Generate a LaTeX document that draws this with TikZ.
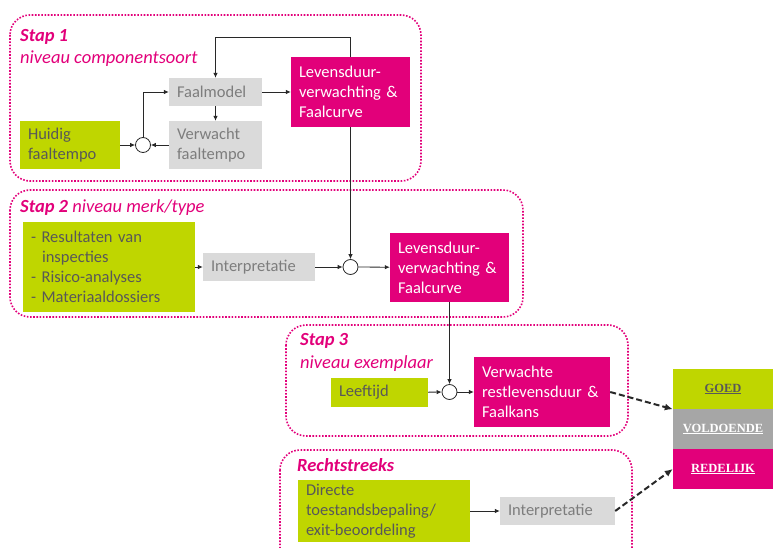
\documentclass[tikz,border=0pt]{standalone}
\usepackage{fontspec}
\usetikzlibrary{arrows.meta}
\setmainfont{Carlito}
\newfontfamily\statfont{Liberation Serif}
\definecolor{lgroen}{RGB}{191,214,0}
\definecolor{lmagenta}{RGB}{226,0,122}
\definecolor{lgrijs}{RGB}{218,218,218}
\definecolor{lstat}{RGB}{166,166,166}
\definecolor{ltekst}{RGB}{88,88,88}
\definecolor{lgtekst}{RGB}{125,125,125}
\definecolor{lpijl}{RGB}{40,40,40}
\tikzset{
  kader/.style={draw=lmagenta, line width=1.6pt, dash pattern=on 1.6pt off 1.6pt, rounded corners=20pt},
  titel/.style={text=lmagenta, font=\fontsize{18.5}{22}\selectfont\itshape, anchor=base west, inner sep=0pt},
  blok/.style={font=\fontsize{16.5}{20}\selectfont, align=left, inner xsep=8pt, inner ysep=0pt},
  gblok/.style={blok, fill=lgroen, text=ltekst},
  sblok/.style={blok, fill=lgrijs, text=lgtekst},
  mblok/.style={blok, fill=lmagenta, text=white},
  som/.style={circle, draw=lpijl, fill=white, line width=0.8pt, minimum size=15pt, inner sep=0pt},
  pijl/.style={draw=lpijl, line width=0.8pt, -{Latex[length=5pt,width=4.5pt]}},
  spijl/.style={draw=lpijl, line width=2pt, dash pattern=on 6pt off 3pt, -{Latex[length=8pt,width=7pt]}},
  stat/.style={minimum width=100pt, minimum height=40pt, inner sep=0pt, font=\statfont\fontsize{12.5}{14}\selectfont\bfseries}
}
\begin{document}
\begin{tikzpicture}[x=1pt, y=-1pt]
    \useasboundingbox (0,0) rectangle (773,548);
    \clip (0,0) rectangle (773,548);
    % stap 1
    \draw[kader] (10,15) rectangle (421,181);
    \node[titel] (t1) at (20,42) {\textbf{Stap 1}};
    \node[titel] (t1b) at (20,64) {niveau componentsoort};
    \node[gblok, text width=84pt, minimum height=48pt] (huidig) at (70,145) {Huidig\\faaltempo};
    \node[sblok, text width=77pt, minimum height=28pt] (faalmodel) at (215.5,92) {Faalmodel};
    \node[sblok, text width=77pt, minimum height=48pt] (verwacht) at (215.5,145) {Verwacht\\faaltempo};
    \node[som] (som1) at (143,145) {};
    \node[mblok, text width=103pt, minimum height=70pt] (lev1) at (350.5,92) {Levensduur-\\verwachting \&\\Faalcurve};
    \draw[pijl] (huidig) -- (som1);
    \draw[pijl] (verwacht) -- (som1);
    \draw[pijl] (som1.north) |- (faalmodel.west);
    \draw[pijl] (faalmodel) -- (verwacht);
    \draw[pijl] (faalmodel) -- (lev1);
    \draw[pijl] (lev1.north) -- ++(0,-19) -| (faalmodel.north);
    % stap 2
    \draw[kader] (10,190) rectangle (523,317);
    \node[titel] (t2) at (20,212) {\textbf{Stap 2} niveau merk/type};
    \node[gblok, text width=156pt, minimum height=90pt] (lijst) at (109,267) {- Resultaten van\\\ \ inspecties\\- Risico-analyses\\- Materiaaldossiers};
    \node[sblok, text width=96pt, minimum height=28pt] (interp1) at (259,267) {Interpretatie};
    \node[som] (som2) at (350.5,267) {};
    \node[mblok, text width=103pt, minimum height=69pt] (lev2) at (449.5,267.5) {Levensduur-\\verwachting \&\\Faalcurve};
    \draw[pijl] (lev1.south) -- (som2.north);
    \draw[pijl] (lijst) -- (interp1);
    \draw[pijl] (interp1) -- (som2);
    \draw[pijl] (som2) -- (lev2);
    % stap 3
    \draw[kader] (286,325) rectangle (628,436);
    \node[titel] (t3) at (300,345) {\textbf{Stap 3}};
    \node[titel] (t3b) at (300,368) {niveau exemplaar};
    \node[gblok, text width=81pt, minimum height=29pt] (leeftijd) at (379.5,392.5) {Leeftijd};
    \node[som] (som3) at (449.5,392) {};
    \node[mblok, text width=120pt, minimum height=70pt] (verwachte) at (542,392) {Verwachte\\restlevensduur \&\\Faalkans};
    \draw[pijl] (lev2.south) -- (som3.north);
    \draw[pijl] (leeftijd) -- (som3);
    \draw[pijl] (som3) -- (verwachte);
    % rechtstreeks
    \draw[kader] (280,450) rectangle (632,580);
    \node[titel] (t4) at (297,471) {\textbf{Rechtstreeks}};
    \node[gblok, text width=156pt, minimum height=62pt] (directe) at (384,511) {Directe\\toestandsbepaling/\\exit-beoordeling};
    \node[sblok, text width=99pt, minimum height=28pt] (interp2) at (557.5,511) {Interpretatie};
    \draw[pijl] (directe) -- (interp2);
    % toestand
    \node[stat, fill=lgroen, text=ltekst] (goed) at (723,389) {\underline{GOED}};
    \node[stat, fill=lstat, text=white] (voldoende) at (723,429) {\underline{VOLDOENDE}};
    \node[stat, fill=lmagenta, text=white] (redelijk) at (723,469) {\underline{REDELIJK}};
    \draw[spijl] (verwachte.east) -- (goed.south west);
    \draw[spijl] (interp2.east) -- (redelijk.west);
  \end{tikzpicture}
\end{document}
